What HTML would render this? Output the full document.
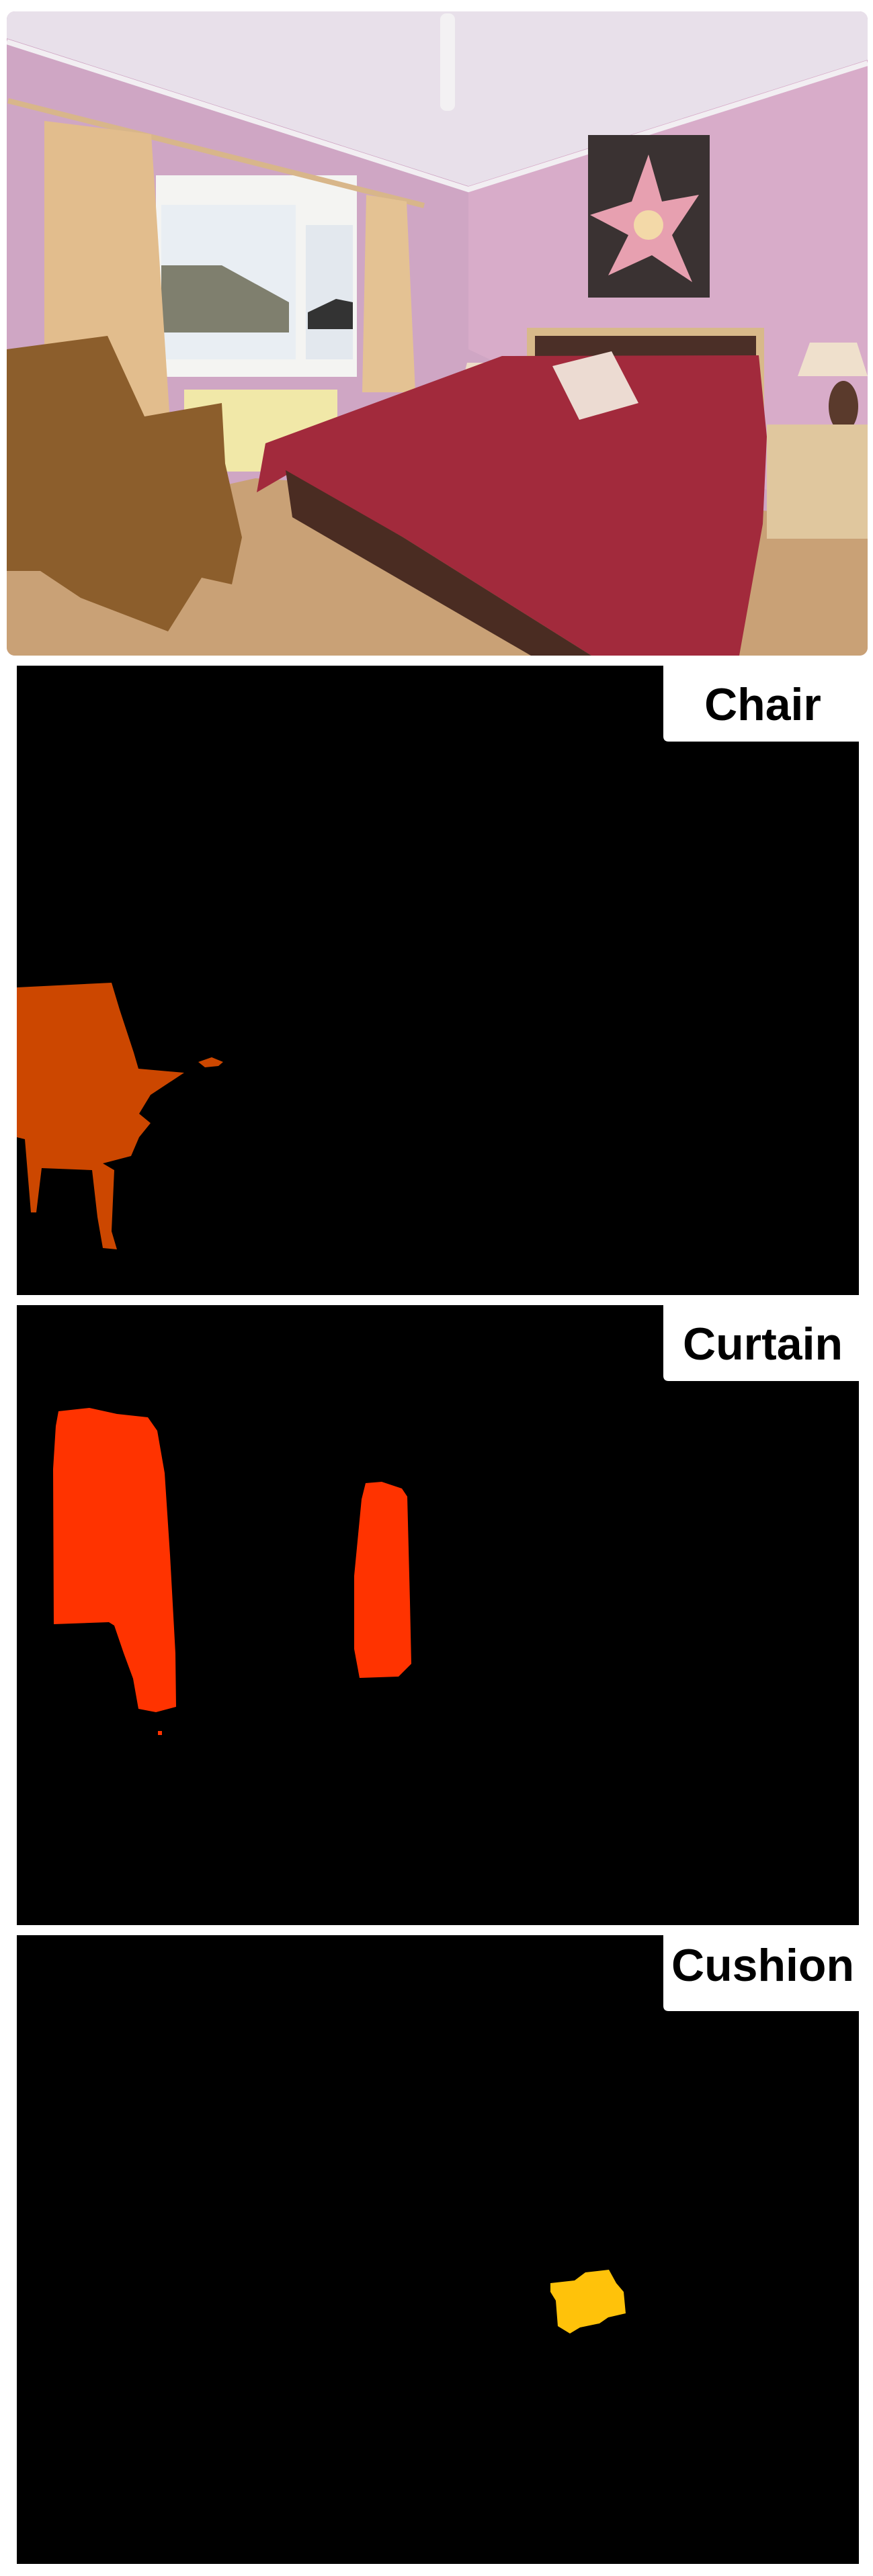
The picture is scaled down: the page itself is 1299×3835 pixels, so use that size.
<!DOCTYPE html>
<html><head><meta charset="utf-8">
<style>
html,body{margin:0;padding:0;background:#fff;}
svg{display:block;}
text{font-family:"Liberation Sans",sans-serif;font-weight:bold;}
</style></head>
<body>
<svg id="fig" width="1299" height="3835" viewBox="0 0 1299 3835" xmlns="http://www.w3.org/2000/svg">
<defs>
<clipPath id="photoClip"><rect x="10" y="17" width="1281" height="959" rx="12"/></clipPath>
</defs>
<g clip-path="url(#photoClip)">
  <rect x="10" y="17" width="1281" height="959" fill="#cfa6c4"/>
  <polygon points="697,277 1291,89 1291,800 697,520" fill="#d8acc9"/>
  <polygon points="10,17 1291,17 1291,89 697,277 10,57" fill="#e8e0ea"/>
  <polyline points="10,62 697,282 1291,94" fill="none" stroke="#f2eef2" stroke-width="8"/>
  <rect x="655" y="20" width="22" height="145" rx="9" fill="#f3f1f3"/>
  <polygon points="10,795 380,712 1291,770 1291,976 10,976" fill="#c9a176"/>
  <rect x="232" y="261" width="299" height="300" fill="#f4f4f2"/>
  <rect x="240" y="305" width="200" height="230" fill="#e9eef3"/>
  <rect x="455" y="335" width="70" height="200" fill="#e3e8ee"/>
  <polygon points="240,395 330,395 430,450 430,495 240,495" fill="#7f7f6e"/>
  <polygon points="458,465 500,445 525,450 525,490 458,490" fill="#333"/>
  <rect x="274" y="580" width="228" height="122" fill="#f1e8a8"/>
  <line x1="12" y1="150" x2="631" y2="306" stroke="#d8b68a" stroke-width="8"/>
  <polygon points="66,180 225,200 253,628 66,628" fill="#e2bd8d"/>
  <polygon points="545,290 605,300 618,584 539,584" fill="#e4c293"/>
  <rect x="875" y="201" width="181" height="242" fill="#3a3232"/>
  <polygon points="965,230 985,300 1040,290 1000,350 1030,420 970,380 905,410 935,350 878,320 940,300" fill="#e7a0b0"/>
  <circle cx="965" cy="335" r="22" fill="#f3d9a8"/>
  <rect x="784" y="488" width="353" height="156" fill="#d8b98a"/>
  <rect x="796" y="500" width="329" height="90" fill="#4b2f27"/>
  <polygon points="695,540 735,540 745,568 688,568" fill="#eddcc8"/>
  <ellipse cx="715" cy="585" rx="12" ry="22" fill="#4a2e24"/>
  <polygon points="1205,510 1275,510 1291,560 1187,560" fill="#efe0cc"/>
  <ellipse cx="1255" cy="605" rx="22" ry="38" fill="#5a3a2c"/>
  <rect x="1141" y="632" width="150" height="170" fill="#e0c79e"/>
  <polygon points="382,733 395,660 747,530 1129,529 1141,650 1135,780 1100,976 880,976 600,800 430,705" fill="#a22a3c"/>
  <polygon points="425,700 600,800 880,976 790,976 435,770" fill="#4a2c22"/>
  <polygon points="822,545 910,523 950,600 862,625" fill="#ecdbd2"/>
  <polygon points="10,520 160,500 215,620 330,600 335,690 360,800 345,870 300,860 250,940 120,890 60,850 10,850" fill="#8c5e2c"/>
</g>
<g id="panels"></g>
</svg>
<script>
// panel layout data
const panelLabels = ["Chair", "Curtain", "Cushion"];
const panelTops = [991, 1943, 2881];
const panelHeights = [937, 923, 936];
const maskColors = ["#cc4700", "#ff3300", "#ffc20a"];
const labelBaselines = [81, 81, 68];
// mask outlines in panel-relative coordinates (x from panel left 25, y from panel top)
const chairMask = [[[0,479],[141,472],[153,512],[174,576],[181,600],[249,606],[199,639],[182,667],[199,681],[182,702],[170,730],[128,741],[145,751],[141,842],[149,869],[128,867],[120,821],[112,751],[37,748],[29,814],[21,814],[12,705],[0,702]],
  [[270,590],[290,583],[307,590],[300,596],[280,598]]];
const curtainMask = [[[62,158],[108,153],[149,162],[195,167],[209,187],[220,250],[228,372],[236,518],[237,598],[207,606],[181,601],[173,556],[159,518],[145,477],[137,472],[55,475],[54,244],[58,180]],
  [[519,265],[543,263],[573,273],[581,285],[585,442],[587,534],[568,553],[510,555],[502,512],[502,403],[513,289]],
  [[210,634],[216,634],[216,640],[210,640]]];
const cushionMask = [[[794,518],[830,514],[846,502],[881,498],[892,518],[903,531],[906,563],[880,569],[867,578],[838,584],[823,593],[805,582],[802,544],[794,531]]];
const allMasks = [chairMask, curtainMask, cushionMask];

const svgNS = "http://www.w3.org/2000/svg";
const panelsG = document.getElementById("panels");
const PX = 25, PW = 1253;
panelLabels.forEach((label, i) => {
  const g = document.createElementNS(svgNS, "g");
  
  
  const top = panelTops[i];
  const bg = document.createElementNS(svgNS, "rect");
  bg.setAttribute("x", PX); bg.setAttribute("y", top);
  bg.setAttribute("width", PW); bg.setAttribute("height", panelHeights[i]);
  bg.setAttribute("fill", "#000");
  
  
  g.appendChild(bg);
  allMasks[i].forEach(poly => {
    const p = document.createElementNS(svgNS, "polygon");
    p.setAttribute("points", poly.map(pt => (PX + pt[0]) + "," + (top + pt[1])).join(" "));
    p.setAttribute("fill", maskColors[i]);
    
    
    g.appendChild(p);
  });
  const box = document.createElementNS(svgNS, "path");
  const bx = 987, bw = 291, bh = 113, r = 8;
  box.setAttribute("d", `M${bx},${top} H${bx+bw} V${top+bh} H${bx+r} Q${bx},${top+bh} ${bx},${top+bh-r} Z`);
  box.setAttribute("fill", "#fff");
  
  
  g.appendChild(box);
  const t = document.createElementNS(svgNS, "text");
  t.setAttribute("x", 1135); t.setAttribute("y", top + labelBaselines[i]);
  t.setAttribute("text-anchor", "middle");
  t.setAttribute("font-size", "68");
  t.setAttribute("fill", "#000");
  t.textContent = label;
  
  
  g.appendChild(t);
  panelsG.appendChild(g);
});
</script>
</body></html>
